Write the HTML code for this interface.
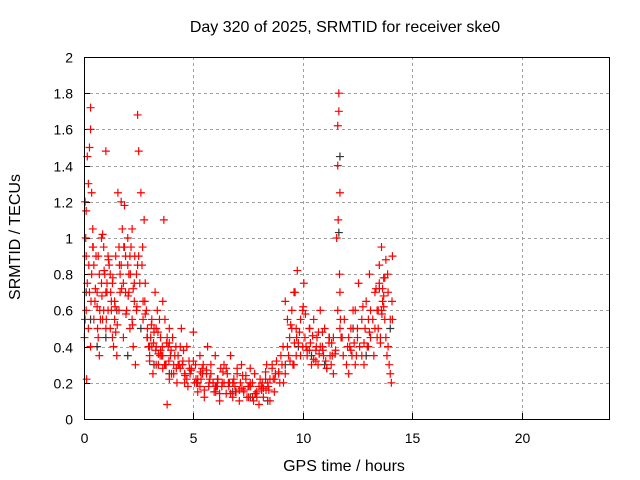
<!DOCTYPE html>
<html><head><meta charset="utf-8"><style>
body{margin:0;background:#fff}
svg{display:block;font-family:"Liberation Sans",sans-serif}
</style></head><body>
<svg id="c" width="640" height="480" viewBox="0 0 640 480">
<text x="345" y="32" font-size="16" text-anchor="middle">Day 320 of 2025, SRMTID for receiver ske0</text>
<text x="344" y="471" font-size="16" text-anchor="middle">GPS time / hours</text>
<text transform="translate(20,237) rotate(-90)" font-size="16" text-anchor="middle">SRMTID / TECUs</text>
<g id="grid"></g><g id="ticks"></g><g id="pts"></g>
<rect x="84.5" y="57.5" width="525" height="362" fill="none" stroke="#000"/>
</svg>
<script>
const xTicks=[0,5,10,15,20];
const yTicks=[0,0.2,0.4,0.6,0.8,1,1.2,1.4,1.6,1.8,2];
const yLabels=["0","0.2","0.4","0.6","0.8","1","1.2","1.4","1.6","1.8","2"];
const redT=[0.05,0.1,0.1,0.15,0.2,0.25,0.3,0.3,0.35,0.4,0.45,0.5,0.2,0.3,0.15,0.4,0.05,0.1,0.02,0.08,0.25,0.35,0.45,0.55,
0.6,0.65,0.7,0.75,0.8,0.85,0.9,0.95,1.0,1.05,1.1,1.15,1.2,1.25,1.3,1.35,1.4,1.45,1.5,0.7,0.9,1.0,1.1,1.3,0.6,0.8,1.0,1.2,1.4,0.65,0.85,1.05,1.25,1.45,
1.55,1.6,1.65,1.7,1.75,1.8,1.85,1.9,1.95,2.0,2.05,2.1,2.15,2.2,2.25,2.3,2.35,2.4,2.45,2.5,2.5,1.6,1.8,2.0,2.2,1.7,1.9,2.1,2.3,2.4,1.65,1.85,2.05,2.25,2.45,
2.6,2.65,2.7,2.75,2.8,2.85,2.9,2.95,3.0,3.05,3.1,3.15,3.2,3.25,3.3,3.35,3.4,3.45,3.5,3.55,3.6,3.65,3.7,3.75,3.8,3.85,3.9,3.95,4.0,2.7,2.9,3.1,3.3,3.5,3.7,3.9,2.8,3.0,3.2,3.4,3.6,3.8,3.0,3.3,3.6,3.9,
4.05,4.1,4.2,4.25,4.3,4.4,4.45,4.5,4.6,4.7,4.75,4.8,4.9,5.0,5.05,5.1,5.2,5.3,5.35,5.4,5.5,5.6,5.65,5.7,5.8,5.9,5.95,6.0,6.1,6.2,6.25,6.3,6.4,6.5,6.55,6.6,6.7,6.8,6.85,6.9,7.0,7.1,7.15,7.2,7.3,7.4,7.45,7.5,7.6,7.7,7.75,7.8,7.9,8.0,8.05,8.1,8.2,8.3,8.35,8.4,8.5,8.6,8.65,8.7,8.8,8.9,8.95,9.0,
4.15,4.35,4.55,4.85,5.15,5.45,5.75,6.05,6.35,6.65,6.95,7.25,7.55,7.85,8.15,8.45,8.75,4.1,4.4,4.7,5.0,5.3,5.6,5.9,6.2,6.5,6.8,7.1,7.4,7.7,8.0,8.3,8.6,8.9,4.3,4.6,4.9,5.2,5.5,5.8,6.1,6.4,6.7,7.0,7.3,7.6,7.9,8.2,8.5,
9.05,9.1,9.2,9.3,9.35,9.4,9.5,9.55,9.6,9.7,9.75,9.8,9.9,10.0,10.05,10.1,10.2,10.3,10.35,10.4,10.5,10.6,10.65,10.7,10.8,10.9,10.95,11.0,11.1,11.2,11.25,11.3,11.4,11.5,9.2,9.45,9.65,9.85,10.15,10.45,10.75,11.05,11.35,9.3,9.6,9.9,10.2,10.5,10.8,11.1,11.4,9.5,9.7,10.0,10.3,10.6,10.9,11.2,
11.55,11.6,11.6,11.62,11.65,11.65,11.68,11.7,11.7,11.72,11.75,11.6,11.7,11.8,11.85,11.9,
12.0,12.05,12.1,12.2,12.25,12.3,12.4,12.5,12.55,12.6,12.7,12.8,12.85,12.9,13.0,13.05,13.1,13.2,13.25,13.3,13.4,13.45,13.5,13.55,13.6,13.65,13.7,13.75,13.8,13.85,13.9,13.95,14.0,14.05,14.1,12.1,12.4,12.7,13.0,13.3,13.5,13.7,13.9,12.2,12.5,12.8,13.1,13.4,13.6,13.8,14.0,13.55,13.65,13.7,14.1,
0.12,0.22,0.32,0.42,0.52,0.62,0.72,0.82,0.92,1.02,1.12,1.22,1.32,1.42,1.52,1.62,1.72,1.82,1.92,2.02,2.12,2.22,2.32,2.42,2.55,2.68,2.78,2.88,2.98,3.08,3.18,3.28,3.38,3.48,3.58,3.68,3.78,3.88,3.98,
4.22,4.52,4.82,5.12,5.42,5.72,6.02,6.32,6.62,6.92,7.22,7.52,7.82,8.12,8.42,8.72,4.62,5.32,6.12,6.82,7.62,8.32,
9.12,9.42,9.72,10.02,10.32,10.62,10.92,11.22,11.48,9.62,10.12,10.72,11.32,12.15,12.45,12.75,13.05,13.35,13.62,13.88,14.08,12.35,12.95,13.45,13.75];
const redV=[0.55,0.9,1.15,1.45,1.3,1.5,1.72,1.6,1.25,1.05,0.85,0.65,0.5,0.4,0.75,0.95,1.2,0.6,0.45,1.0,0.7,0.8,0.55,0.9,
0.7,0.45,0.35,0.55,1.0,1.02,0.95,0.8,1.48,0.7,0.6,0.85,0.5,0.65,0.75,0.4,0.55,0.9,0.35,0.8,0.6,0.5,0.9,0.45,0.62,0.75,0.7,0.8,0.65,0.9,0.55,0.75,0.6,0.48,
1.25,0.95,0.8,1.2,1.05,0.75,1.18,0.9,0.6,0.85,0.7,0.5,0.95,1.05,0.4,0.65,0.3,0.8,1.68,1.48,0.9,0.6,0.45,1.0,0.55,0.85,0.7,0.9,0.75,0.6,0.7,0.95,0.8,0.72,0.85,
1.25,0.85,0.55,1.1,0.75,0.6,0.5,0.4,0.35,0.45,0.55,0.25,0.5,0.7,0.4,0.6,0.3,0.55,0.45,0.35,0.65,1.1,0.55,0.3,0.08,0.4,0.5,0.35,0.25,0.65,0.45,0.4,0.5,0.38,0.3,0.42,0.58,0.32,0.48,0.36,0.28,0.45,0.4,0.3,0.35,0.22,
0.45,0.3,0.4,0.2,0.35,0.28,0.5,0.3,0.25,0.4,0.18,0.32,0.27,0.48,0.2,0.3,0.15,0.35,0.22,0.28,0.12,0.25,0.4,0.18,0.3,0.2,0.15,0.35,0.22,0.1,0.28,0.18,0.3,0.14,0.25,0.2,0.35,0.12,0.22,0.18,0.28,0.1,0.2,0.3,0.15,0.24,0.12,0.18,0.28,0.2,0.1,0.25,0.15,0.08,0.22,0.18,0.12,0.26,0.3,0.2,0.1,0.28,0.22,0.15,0.32,0.25,0.2,0.35,
0.35,0.3,0.38,0.25,0.2,0.3,0.22,0.18,0.26,0.2,0.15,0.24,0.18,0.14,0.2,0.16,0.25,0.25,0.4,0.22,0.32,0.18,0.27,0.2,0.14,0.28,0.2,0.16,0.22,0.12,0.18,0.22,0.3,0.26,0.3,0.2,0.28,0.22,0.16,0.25,0.18,0.2,0.14,0.25,0.16,0.2,0.12,0.17,0.22,
0.3,0.4,0.25,0.55,0.35,0.45,0.6,0.3,0.7,0.5,0.82,0.42,0.35,0.6,0.75,0.45,0.35,0.5,0.42,0.3,0.55,0.38,0.45,0.3,0.6,0.4,0.35,0.5,0.28,0.42,0.35,0.3,0.45,0.38,0.65,0.52,0.7,0.48,0.4,0.46,0.36,0.32,0.35,0.4,0.3,0.55,0.38,0.33,0.4,0.28,0.25,0.5,0.35,0.4,0.38,0.32,0.48,0.45,
1.0,1.4,1.62,1.1,1.8,1.7,0.8,1.25,0.7,0.55,0.45,0.6,0.5,0.45,0.35,0.55,
0.3,0.4,0.25,0.5,0.35,0.6,0.3,0.45,0.75,0.4,0.55,0.3,0.5,0.65,0.4,0.8,0.45,0.55,0.35,0.7,0.6,0.5,0.85,0.45,0.95,0.65,0.78,0.55,0.45,0.35,0.4,0.3,0.25,0.2,0.55,0.45,0.6,0.35,0.55,0.5,0.75,0.62,0.7,0.38,0.5,0.42,0.6,0.45,0.6,0.88,0.55,0.42,0.72,0.68,0.9,0.22,
0.85,0.65,0.95,0.72,0.5,0.6,0.68,0.82,0.55,0.88,0.7,0.78,0.62,0.52,0.85,0.72,0.95,0.58,0.68,0.8,0.52,0.9,0.62,0.75,0.95,0.65,0.45,0.4,0.52,0.42,0.38,0.48,0.35,0.4,0.3,0.42,0.32,0.38,0.28,
0.32,0.28,0.22,0.25,0.2,0.15,0.2,0.18,0.15,0.17,0.12,0.14,0.16,0.18,0.22,0.24,0.26,0.22,0.2,0.18,0.16,0.2,
0.32,0.45,0.62,0.5,0.4,0.38,0.45,0.36,0.42,0.58,0.48,0.42,0.4,0.35,0.62,0.48,0.72,0.58,0.8,0.65,0.42,0.4,0.6,0.78,0.7];
const blackT=[0.1,0.3,0.6,1.0,1.5,2.0,2.6,3.2,3.9,4.5,5.2,6.0,6.8,7.6,8.4,9.2,9.8,10.4,11.0,11.65,11.7,12.3,12.9,13.5,14.0];
const blackV=[0.7,0.55,0.4,0.45,0.6,0.35,0.5,0.3,0.25,0.3,0.2,0.18,0.15,0.12,0.1,0.3,0.4,0.35,0.3,1.03,1.45,0.5,0.35,0.72,0.5];
const X=t=>84+t*(525/24), Y=v=>419-v*181;
const NS="http://www.w3.org/2000/svg";
const grid=document.getElementById('grid'),ticks=document.getElementById('ticks'),pts=document.getElementById('pts');
function mk(tag,at,par){const e=document.createElementNS(NS,tag);for(const k in at)e.setAttribute(k,at[k]);par.appendChild(e);return e;}
xTicks.forEach(t=>{const x=Math.round(X(t))+0.5;
 if(t>0){const g=mk('line',{x1:x,x2:x,y1:57,y2:419,stroke:'#a0a0a0','stroke-dasharray':'3,3'},grid);
 
 }
 mk('line',{x1:x,x2:x,y1:419,y2:413,stroke:'#000'},ticks);
 const l=mk('text',{x:x,y:443,'font-size':14,'text-anchor':'middle'},ticks);l.textContent=t;
 
 });
yTicks.forEach((v,i)=>{const y=Math.round(Y(v))+0.5;
 if(v>0&&v<2){const g=mk('line',{x1:84,x2:609,y1:y,y2:y,stroke:'#a0a0a0','stroke-dasharray':'3,3'},grid);
 
 }
 mk('line',{x1:84,x2:90,y1:y,y2:y,stroke:'#000'},ticks);
 const l=mk('text',{x:73,y:y+5,'font-size':14,'text-anchor':'end'},ticks);l.textContent=yLabels[i];
 
 });
function plus(t,v,c,name){const x=X(t),y=Y(v);
 const p=mk('path',{d:`M${x-4} ${y}H${x+4}M${x} ${y-4}V${y+4}`,stroke:c,'stroke-width':1.2,fill:'none'},pts);
 
 }
blackT.forEach((t,i)=>plus(t,blackV[i],'#333','black-point'));
redT.forEach((t,i)=>plus(t,redV[i],'#ff0000','red-point'));
</script>
</body></html>
